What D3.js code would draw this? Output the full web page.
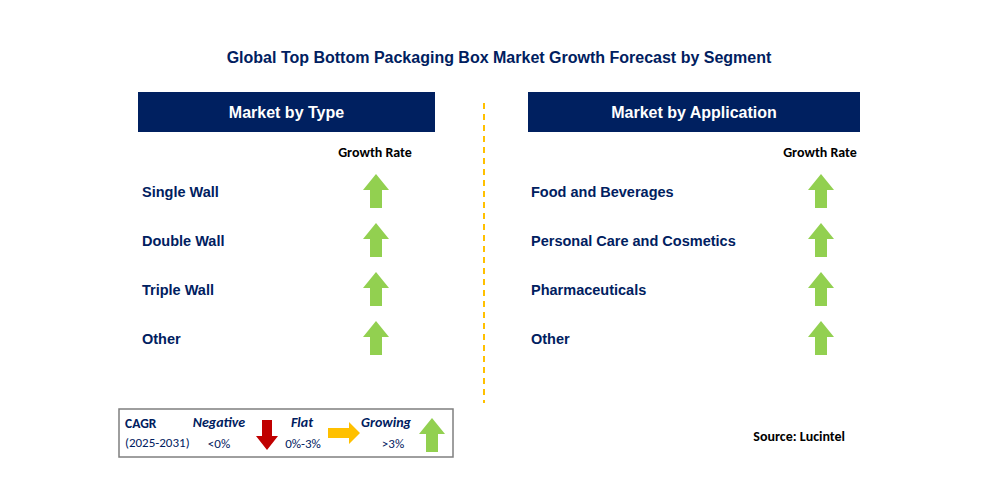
<!DOCTYPE html><html><head><meta charset="utf-8"><script src="https://cdn.jsdelivr.net/npm/d3@7"></script>
<style>body{margin:0;background:#fff}text{font-family:Calibri,Carlito,"Open Sans",Arial,sans-serif}</style></head><body><svg id="c" width="988" height="484"></svg>
<script>
const typeCats=["Single Wall","Double Wall","Triple Wall","Other"];
const typeGrowth=["up","up","up","up"];
const appCats=["Food and Beverages","Personal Care and Cosmetics","Pharmaceuticals","Other"];
const appGrowth=["up","up","up","up"];
const svg=d3.select("#c");
const navy="#002060",green="#92D050",red="#C00000",amber="#FFC000";
svg.append("text").attr("x",499).attr("y",63).attr("text-anchor","middle").attr("font-size",16).attr("font-weight","bold").attr("fill",navy).style("font-family","Arial,Liberation Sans").text("Global Top Bottom Packaging Box Market Growth Forecast by Segment");
svg.append("line").attr("x1",484).attr("x2",484).attr("y1",103).attr("y2",403).attr("stroke",amber).attr("stroke-width",2).attr("stroke-dasharray","6,5");
const y=d3.scalePoint().domain([0,1,2,3]).range([191,338]);
function arrowUp(g,cx,cy,c){g.append("path").attr("d",`M${cx},${cy-17}L${cx+13},${cy-1}L${cx+6},${cy-1}L${cx+6},${cy+17}L${cx-6},${cy+17}L${cx-6},${cy-1}L${cx-13},${cy-1}Z`).attr("fill",c);}
function panel(x0,w,title,cats,ax,tx){
 svg.append("rect").attr("x",x0).attr("y",92).attr("width",w).attr("height",40).attr("fill",navy);
 svg.append("text").attr("x",x0+w/2).attr("y",118).attr("text-anchor","middle").attr("fill","#fff").attr("font-size",16).attr("font-weight","bold").style("font-family","Arial,Liberation Sans").text(title);
 svg.append("text").attr("x",ax).attr("y",157).attr("text-anchor","middle").attr("font-size",14).attr("font-weight","bold").attr("fill","#000").text("Growth Rate");
 cats.forEach((c,i)=>{svg.append("text").attr("x",tx).attr("y",y(i)+6).attr("font-size",14.5).attr("font-weight","bold").attr("fill",navy).style("font-family","Arial,Liberation Sans").text(c);arrowUp(svg,ax+1,y(i),green);});
}
panel(138,297,"Market by Type",typeCats,375,142);
panel(528,332,"Market by Application",appCats,820,531);
svg.append("rect").attr("x",119).attr("y",409).attr("width",334).attr("height",48).attr("fill","none").attr("stroke","#7f7f7f").attr("stroke-width",1.5);
const L=svg.append("g");
L.append("text").attr("x",125).attr("y",428).attr("font-size",13.5).attr("font-weight","bold").attr("fill",navy).text("CAGR");
L.append("text").attr("x",125).attr("y",447).attr("font-size",13).attr("fill",navy).text("(2025-2031)");
[["Negative",219,"<0%",219],["Flat",302,"0%-3%",303],["Growing",386,">3%",393]].forEach(d=>{
 L.append("text").attr("x",d[1]).attr("y",427).attr("text-anchor","middle").attr("font-size",14).attr("font-weight","bold").attr("font-style","italic").attr("fill",navy).text(d[0]);
 L.append("text").attr("x",d[3]).attr("y",448).attr("text-anchor","middle").attr("font-size",13).attr("fill",navy).text(d[2]);});
L.append("path").attr("d","M262,420L272,420L272,436L278,436L267,450L256,436L262,436Z").attr("fill",red);
L.append("path").attr("d","M328,428L349,428L349,422L360,433L349,444L349,438L328,438Z").attr("fill",amber);
arrowUp(L,432,435,green);
svg.append("text").attr("x",845).attr("y",441).attr("text-anchor","end").attr("font-size",14).attr("font-weight","bold").attr("fill","#000").text("Source: Lucintel");
</script></body></html>
